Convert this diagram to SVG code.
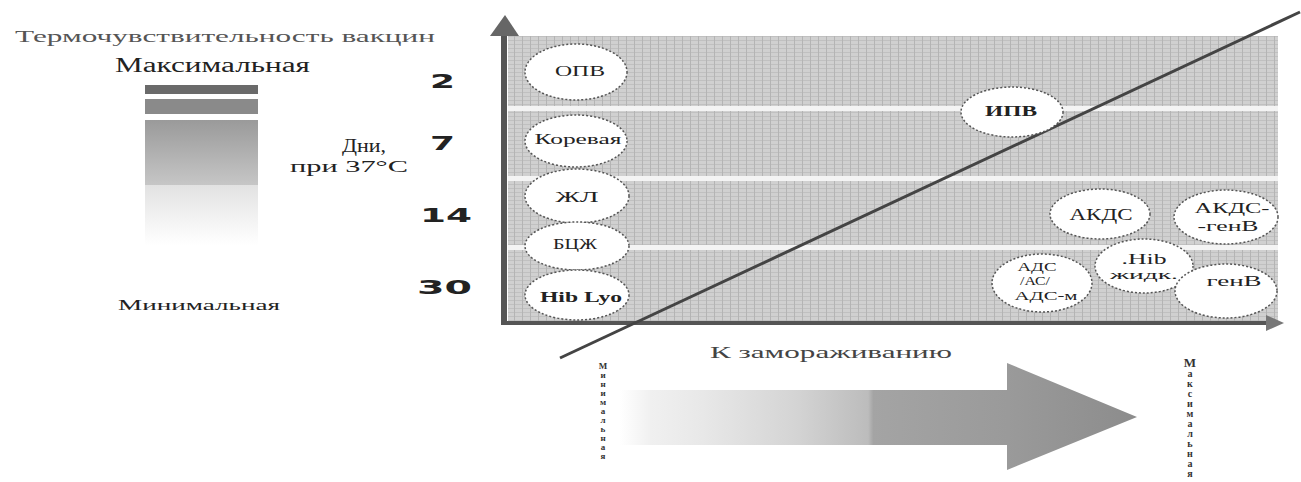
<svg xmlns="http://www.w3.org/2000/svg" width="1301" height="482" viewBox="0 0 1301 482">
<style>
  .lbl { font-family: "Liberation Serif", "DejaVu Serif", serif; fill: #222; }
  .num { font-family: "DejaVu Sans", "Liberation Sans", sans-serif; font-weight: bold; fill: #222; font-size: 20px; }
  .node ellipse { fill: #ffffff; stroke: #555; stroke-width: 1.5; stroke-dasharray: 2 2; }
  .node text { font-family: "Liberation Serif", "DejaVu Serif", serif; fill: #222; text-anchor: middle; }
  .vert { font-family: "Liberation Serif", "DejaVu Serif", serif; fill: #333; text-anchor: middle; font-weight: bold; }
</style>
<defs>
  <pattern id="grid" width="8" height="8" patternUnits="userSpaceOnUse">
    <rect width="8" height="8" fill="#d0d0d0"/>
    <path d="M0 0.5H8M0 4.5H8" stroke="#c0c0c0" stroke-width="1"/>
    <path d="M2.5 0V8" stroke="#b4b4b4" stroke-width="1"/>
  </pattern>
  <linearGradient id="barG" x1="0" y1="0" x2="0" y2="1">
    <stop offset="0" stop-color="#9a9a9a"/>
    <stop offset="1" stop-color="#c6c6c6"/>
  </linearGradient>
  <linearGradient id="barL" x1="0" y1="0" x2="0" y2="1">
    <stop offset="0" stop-color="#e2e2e2"/>
    <stop offset="1" stop-color="#ffffff"/>
  </linearGradient>
  <linearGradient id="bigArrow" x1="620" y1="0" x2="1137" y2="0" gradientUnits="userSpaceOnUse">
    <stop offset="0" stop-color="#ffffff"/>
    <stop offset="0.06" stop-color="#f0f0f0"/>
    <stop offset="0.16" stop-color="#e8e8e8"/>
    <stop offset="0.34" stop-color="#d4d4d4"/>
    <stop offset="0.48" stop-color="#bcbcbc"/>
    <stop offset="0.49" stop-color="#a4a4a4"/>
    <stop offset="0.75" stop-color="#9a9a9a"/>
    <stop offset="1" stop-color="#8c8c8c"/>
  </linearGradient>
</defs>
<rect width="1301" height="482" fill="#ffffff"/>

<!-- left legend -->
<g id="legend">
  <text class="lbl" x="15" y="42" font-size="17" style="fill:#555" textLength="420" lengthAdjust="spacingAndGlyphs">Термочувствительность вакцин</text>
  <text class="lbl" x="115" y="72" font-size="20" textLength="195" lengthAdjust="spacingAndGlyphs">Максимальная</text>
  <rect x="145" y="85" width="113" height="9" fill="#6a6a6a"/>
  <rect x="145" y="99" width="113" height="15" fill="#8a8a8a"/>
  <rect x="145" y="120" width="113" height="65" fill="url(#barG)"/>
  <rect x="145" y="185" width="113" height="60" fill="url(#barL)"/>
  <text class="lbl" x="118" y="310" font-size="14" textLength="162" lengthAdjust="spacingAndGlyphs">Минимальная</text>
  <text class="lbl" x="342" y="152" font-size="18" textLength="44" lengthAdjust="spacingAndGlyphs">Дни,</text>
  <text class="lbl" x="290" y="172" font-size="16" textLength="118" lengthAdjust="spacingAndGlyphs">при 37°С</text>
  <text class="num" x="430" y="88" textLength="25" lengthAdjust="spacingAndGlyphs">2</text>
  <text class="num" x="430" y="150" textLength="25" lengthAdjust="spacingAndGlyphs">7</text>
  <text class="num" x="420" y="222" textLength="52" lengthAdjust="spacingAndGlyphs">14</text>
  <text class="num" x="417" y="294" textLength="55" lengthAdjust="spacingAndGlyphs">30</text>
</g>

<!-- plot area -->
<g id="plot">
  <rect x="508" y="36" width="770" height="286" fill="url(#grid)"/>
  <rect x="508" y="106" width="770" height="5" fill="#f4f4f4"/>
  <rect x="508" y="176" width="770" height="5" fill="#f4f4f4"/>
  <rect x="508" y="245" width="770" height="5" fill="#f4f4f4"/>
</g>

<g id="connectors">
  <line x1="504" y1="30" x2="504" y2="325" stroke="#555" stroke-width="6"/>
  <polygon points="490,36 519,36 505,15" fill="#666"/>
  <line x1="502" y1="323" x2="1270" y2="323" stroke="#555" stroke-width="4"/>
  <polygon points="1266,315 1266,331 1284,323" fill="#777"/>
  <line x1="560" y1="358" x2="1300" y2="12" stroke="#444" stroke-width="3"/>
  <polygon points="620,390 1007,390 1007,363 1137,417 1007,470 1007,445 620,445" fill="url(#bigArrow)"/>
</g>

<!-- nodes -->
<g id="n-opv" class="node"><ellipse cx="576" cy="72" rx="51" ry="28"/><text x="580" y="76" font-size="14" textLength="50" lengthAdjust="spacingAndGlyphs">ОПВ</text></g>
<g id="n-koreva" class="node"><ellipse cx="576" cy="141" rx="51" ry="26"/><text x="578" y="144" font-size="14" textLength="87" lengthAdjust="spacingAndGlyphs">Коревая</text></g>
<g id="n-zhl" class="node"><ellipse cx="577" cy="196" rx="52" ry="27"/><text x="577" y="202" font-size="14" textLength="43" lengthAdjust="spacingAndGlyphs">ЖЛ</text></g>
<g id="n-bcg" class="node"><ellipse cx="577" cy="246" rx="52" ry="24"/><text x="575" y="249" font-size="14" textLength="44" lengthAdjust="spacingAndGlyphs">БЦЖ</text></g>
<g id="n-hiblyo" class="node"><ellipse cx="577" cy="295" rx="52" ry="25"/><text x="581" y="302" font-size="15" font-weight="bold" textLength="82" lengthAdjust="spacingAndGlyphs">Hib Lyo</text></g>
<g id="n-ipv" class="node"><ellipse cx="1012" cy="112" rx="51" ry="25"/><text x="1011" y="116" font-size="14" font-weight="bold" textLength="52" lengthAdjust="spacingAndGlyphs">ИПВ</text></g>
<g id="n-akds" class="node"><ellipse cx="1100" cy="214" rx="50" ry="25"/><text x="1101" y="220" font-size="16" textLength="63" lengthAdjust="spacingAndGlyphs">АКДС</text></g>
<g id="n-akdsgep" class="node"><ellipse cx="1226" cy="217" rx="52" ry="27"/><text x="1232" y="213" font-size="15" textLength="75" lengthAdjust="spacingAndGlyphs">АКДС-</text><text x="1228" y="231" font-size="14" textLength="61" lengthAdjust="spacingAndGlyphs">-генВ</text></g>
<g id="n-ads" class="node"><ellipse cx="1042" cy="283" rx="50" ry="29"/><text x="1037" y="271" font-size="13" textLength="39" lengthAdjust="spacingAndGlyphs">АДС</text><text x="1035" y="285" font-size="13" textLength="30" lengthAdjust="spacingAndGlyphs">/АС/</text><text x="1046" y="300" font-size="13" textLength="63" lengthAdjust="spacingAndGlyphs">АДС-м</text></g>
<g id="n-hibliq" class="node"><ellipse cx="1144" cy="266" rx="49" ry="27"/><text x="1144" y="264" font-size="15" textLength="45" lengthAdjust="spacingAndGlyphs">.Hib</text><text x="1144" y="279" font-size="13" textLength="68" lengthAdjust="spacingAndGlyphs">жидк.</text></g>
<g id="n-gepb" class="node"><ellipse cx="1226" cy="291" rx="51" ry="27"/><text x="1234" y="286" font-size="14" textLength="55" lengthAdjust="spacingAndGlyphs">генВ</text></g>

<!-- bottom labels -->
<g id="freeze-label">
  <text class="lbl" x="710" y="358" font-size="17" style="fill:#444" textLength="242" lengthAdjust="spacingAndGlyphs">К замораживанию</text>
</g>
<g id="min-vert" class="vert" font-size="9">
  <text x="603" y="369">М</text><text x="603" y="378">и</text><text x="603" y="387">н</text><text x="603" y="396">и</text><text x="603" y="405">м</text><text x="603" y="414">а</text><text x="603" y="423">л</text><text x="603" y="432">ь</text><text x="603" y="441">н</text><text x="603" y="450">а</text><text x="603" y="459">я</text>
</g>
<g id="max-vert" class="vert" font-size="10">
  <text x="1190" y="367" font-size="13">М</text><text x="1190" y="377">а</text><text x="1190" y="387">к</text><text x="1190" y="397">с</text><text x="1190" y="407">и</text><text x="1190" y="417">м</text><text x="1190" y="427">а</text><text x="1190" y="437">л</text><text x="1190" y="447">ь</text><text x="1190" y="457">н</text><text x="1190" y="467">а</text><text x="1190" y="477">я</text>
</g>
</svg>
